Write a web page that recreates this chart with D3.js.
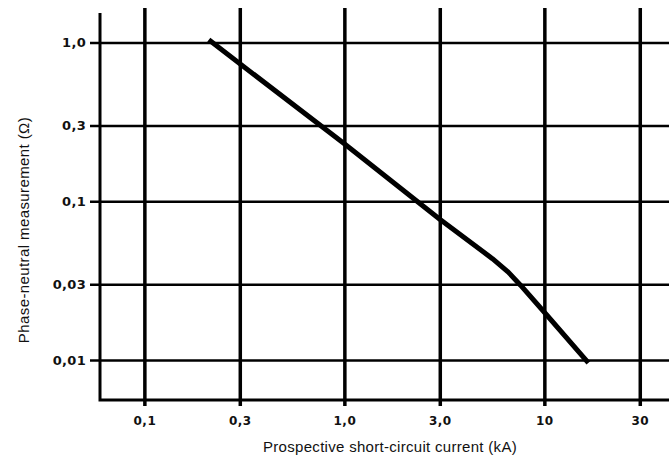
<!DOCTYPE html>
<html>
<head>
<meta charset="utf-8">
<script src="https://cdn.jsdelivr.net/npm/d3@7"></script>
<style>
  body { margin: 0; background: #fff; }
  svg { display: block; }
  .tick text { font-family: "DejaVu Sans", sans-serif; font-weight: bold; fill: #111; }
  .title { font-family: "Liberation Sans", Arial, sans-serif; fill: #111; }
</style>
</head>
<body>
<div id="chart"></div>
<script>
// Tick values and their labels (comma decimals as in the original)
var xTicks = [0.1, 0.3, 1.0, 3.0, 10, 30];
var xTickLabels = ["0,1", "0,3", "1,0", "3,0", "10", "30"];
var yTicks = [1.0, 0.3, 0.1, 0.03, 0.01];
var yTickLabels = ["1,0", "0,3", "0,1", "0,03", "0,01"];

// Curve
var currentKA = [0.21, 1.0, 3.0, 5.5, 6.6, 7.6, 10, 16.6];
var resistanceOhm = [1.04, 0.23, 0.077, 0.0435, 0.0358, 0.0296, 0.02, 0.0096];

var width = 669,
    height = 463;

// plot box ("top" is taken by window, so use plot* names)
var plotLeft = 100, plotRight = 669, plotTop = 8, plotBottom = 400;

var svg = d3.select("#chart")
    .append("svg")
    .attr("width", width)
    .attr("height", height);

var x = d3.scaleLog().domain([0.06, 42]).range([plotLeft, plotRight]);
var y = d3.scaleLog().domain([0.0056, 1.65]).range([plotBottom, plotTop]);

// vertical grid lines + x labels
var xAxis = svg.append("g")
    .attr("transform", "translate(0," + (plotBottom + 6) + ")")
    .call(d3.axisBottom(x)
        .tickValues(xTicks)
        .tickSize(-(plotBottom + 6 - plotTop))
        .tickPadding(10)
        .tickFormat(function(d, i) { return xTickLabels[i]; }));
xAxis.select(".domain").remove();
xAxis.selectAll(".tick line").attr("stroke", "#000").attr("stroke-width", 3.5);
xAxis.selectAll(".tick text").style("font-size", "12px").style("letter-spacing", "0.5px");

// horizontal grid lines + y labels
var yAxis = svg.append("g")
    .attr("transform", "translate(" + (plotLeft - 10) + ",0)")
    .call(d3.axisLeft(y)
        .tickValues(yTicks)
        .tickSize(-(plotRight - plotLeft + 10))
        .tickPadding(4)
        .tickFormat(function(d, i) { return yTickLabels[i]; }));
yAxis.select(".domain").remove();
yAxis.selectAll(".tick line").attr("stroke", "#000").attr("stroke-width", 2.5);
yAxis.selectAll(".tick text").style("font-size", "13px").style("letter-spacing", "0.3px");

// axis frame (left and bottom)
svg.append("path")
    .attr("d", "M" + plotLeft + "," + (plotTop + 5) + "V" + plotBottom + "H" + plotRight)
    .attr("fill", "none")
    .attr("stroke", "#000")
    .attr("stroke-width", 3);

// the curve
var pts = currentKA.map(function(c, i) { return [c, resistanceOhm[i]]; });
var line = d3.line()
    .x(function(d) { return x(d[0]); })
    .y(function(d) { return y(d[1]); });

svg.append("path")
    .datum(pts)
    .attr("d", line)
    .attr("fill", "none")
    .attr("stroke", "#000")
    .attr("stroke-width", 5)
    .attr("stroke-linejoin", "round");

// axis titles
svg.append("text")
    .attr("class", "title")
    .attr("x", 390)
    .attr("y", 452)
    .attr("text-anchor", "middle")
    .style("font-size", "15px")
    .style("letter-spacing", "0.3px")
    .text("Prospective short-circuit current (kA)");

svg.append("text")
    .attr("class", "title")
    .attr("transform", "translate(29,230) rotate(-90)")
    .attr("text-anchor", "middle")
    .style("font-size", "15px")
    .style("letter-spacing", "0.4px")
    .text("Phase-neutral measurement (Ω)");
</script>
</body>
</html>
